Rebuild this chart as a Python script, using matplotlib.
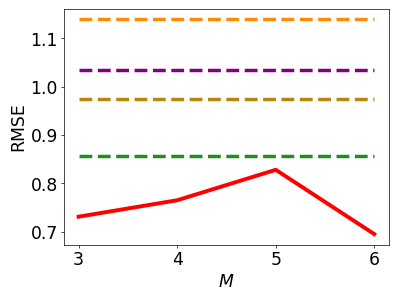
import numpy as np
import matplotlib
matplotlib.use("Agg")
import matplotlib.pyplot as plt

# data
M = [3, 4, 5, 6]
rmse_ours = [0.731, 0.765, 0.828, 0.695]
baselines = [1.139, 1.035, 0.975, 0.856]
baseline_colors = ["darkorange", "purple", "darkgoldenrod", "forestgreen"]

fig = plt.figure(figsize=(6.4, 4.8), dpi=62.35)
ax = fig.add_axes([0.160, 0.181, 0.815, 0.789])

for val, c in zip(baselines, baseline_colors):
    ax.plot(M, [val] * len(M), color=c, linestyle="--", linewidth=4)
ax.plot(M, rmse_ours, color="red", linewidth=4.5)

ax.set_xticks(M)
ax.set_yticks([0.7, 0.8, 0.9, 1.0, 1.1])
ax.tick_params(labelsize=20)
ax.set_xlabel("$M$", fontsize=20)
ax.set_ylabel("RMSE", fontsize=20)

fig.savefig("out.png", dpi=62.35)
